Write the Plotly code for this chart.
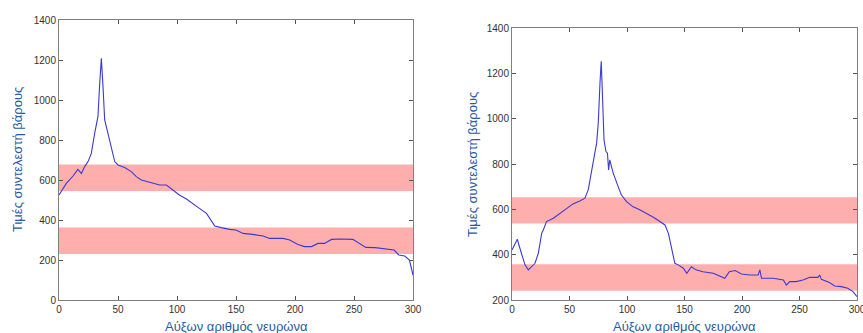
import plotly.graph_objects as go

W, H = 863, 333

# ---- Data: left panel ----
left_x = [0, 6.2, 11.9, 16, 19, 21.8, 24.6, 27.4, 30.2, 33, 34.5, 35.9, 37.3, 38.7, 41.5, 44.4, 47.2,
          50, 55.6, 61.3, 65.5, 69.8, 75.4, 79.7, 85.3, 91, 96.6, 102, 108, 113.6, 119, 125, 129, 132,
          137.6, 144.6, 150, 156, 164, 173, 178.5, 190, 195.5, 202.5, 208, 214, 219.5, 225, 231, 238,
          249, 255, 260, 268, 277, 284, 288, 293, 297, 300]
left_y = [525, 583, 620, 653, 633, 667, 692, 733, 833, 917, 1083, 1208, 1067, 900, 833, 767, 692,
          675, 662, 642, 617, 600, 592, 583, 575, 575, 550, 525, 505, 483, 458, 433, 400, 370,
          362, 353, 350, 333, 328, 320, 308, 308, 300, 278, 267, 267, 283, 283, 303, 305,
          303, 283, 263, 262, 257, 250, 225, 220, 200, 125]
left_bands = [(545, 678), (230, 363)]

# ---- Data: right panel ----
right_x = [0, 2.6, 4.6, 6.4, 8.4, 11.3, 14.2, 17, 20, 22.9, 25.8, 27.2, 30, 36, 41.7, 47.5, 53, 59,
           63.4, 66.3, 69.2, 72, 73.6, 75, 76.5, 77.6, 78.8, 80, 81.7, 83, 84, 85, 88, 91, 95, 99.6,
           105, 111, 117, 123, 128.6, 133, 136, 138.7, 141.6, 144.5, 149, 152, 156, 160, 166, 175,
           181, 185, 189, 194, 199.5, 207, 214, 215.5, 217, 227, 236, 238.6, 241.5, 247, 253, 259,
           266, 267.6, 269, 276, 280.6, 286.4, 292, 296.5, 300]
right_y = [421, 450, 468, 436, 399, 355, 333, 347, 362, 406, 494, 509, 546, 561, 583, 605, 624, 637,
           649, 686, 760, 848, 892, 980, 1157, 1253, 1083, 907, 855, 848, 774, 818, 760, 715, 664, 634,
           612, 598, 583, 565, 546, 531, 494, 436, 362, 355, 340, 318, 347, 333, 325, 318,
           306, 296, 325, 330, 315, 310, 310, 333, 296, 296, 288, 266, 281, 281, 288, 300,
           300, 310, 291, 277, 262, 259, 252, 237, 215]
right_bands = [(537, 653), (241, 358)]

x_ticks = [0, 50, 100, 150, 200, 250, 300]
left_y_ticks = [0, 200, 400, 600, 800, 1000, 1200, 1400]
right_y_ticks = [200, 400, 600, 800, 1000, 1200, 1400]

x_title = "Αύξων αριθμός νευρώνα"
y_title = "Τιμές συντελεστή βάρους"

LINE = "#3a3ad0"
BAND = "rgba(255,160,160,0.85)"
TITLE_C = "#2a5aa0"
FONT = "Liberation Sans"

fig = go.Figure()
fig.add_trace(go.Scatter(x=left_x, y=left_y, mode="lines", line=dict(color=LINE, width=1.1),
                         xaxis="x", yaxis="y", showlegend=False))
fig.add_trace(go.Scatter(x=right_x, y=right_y, mode="lines", line=dict(color=LINE, width=1.1),
                         xaxis="x2", yaxis="y2", showlegend=False))

shapes = []
for (a, b) in left_bands:
    shapes.append(dict(type="rect", xref="x domain", yref="y", x0=0, x1=1, y0=a, y1=b,
                       fillcolor=BAND, line=dict(width=0), layer="below"))
for (a, b) in right_bands:
    shapes.append(dict(type="rect", xref="x2 domain", yref="y2", x0=0, x1=1, y0=a, y1=b,
                       fillcolor=BAND, line=dict(width=0), layer="below"))

def px_x(p):
    return p / W

def px_y(p):
    return 1 - p / H

axis_common = dict(showline=True, linecolor="#808080", linewidth=1, mirror="ticks",
                   ticks="inside", ticklen=4, tickcolor="#555", showgrid=False, zeroline=False,
                   tickfont=dict(family=FONT, size=10, color="#333"), automargin=False,
                   ticklabeloverflow="allow")

fig.update_layout(
    width=W, height=H, margin=dict(l=0, r=0, t=0, b=0),
    paper_bgcolor="white", plot_bgcolor="white",
    shapes=shapes,
    xaxis=dict(domain=[px_x(59), px_x(413)], range=[0, 300], tickvals=x_ticks, anchor="y", **axis_common),
    yaxis=dict(domain=[px_y(300), px_y(20)], range=[0, 1400], tickvals=left_y_ticks, anchor="x", **axis_common),
    xaxis2=dict(domain=[px_x(512), px_x(857)], range=[0, 300], tickvals=x_ticks, anchor="y2", **axis_common),
    yaxis2=dict(domain=[px_y(300), px_y(28)], range=[200, 1400], tickvals=right_y_ticks, anchor="x2", **axis_common),
    annotations=[
        dict(text=x_title, xref="paper", yref="paper", x=px_x(236), y=px_y(326), showarrow=False,
             font=dict(family=FONT, size=13, color=TITLE_C), xanchor="center", yanchor="middle"),
        dict(text=y_title, xref="paper", yref="paper", x=px_x(17), y=px_y(160), showarrow=False,
             textangle=-90, font=dict(family=FONT, size=13, color=TITLE_C), xanchor="center", yanchor="middle"),
        dict(text=x_title, xref="paper", yref="paper", x=px_x(684), y=px_y(326), showarrow=False,
             font=dict(family=FONT, size=13, color=TITLE_C), xanchor="center", yanchor="middle"),
        dict(text=y_title, xref="paper", yref="paper", x=px_x(472), y=px_y(165), showarrow=False,
             textangle=-90, font=dict(family=FONT, size=13, color=TITLE_C), xanchor="center", yanchor="middle"),
    ],
)

fig.write_html("out.html")
